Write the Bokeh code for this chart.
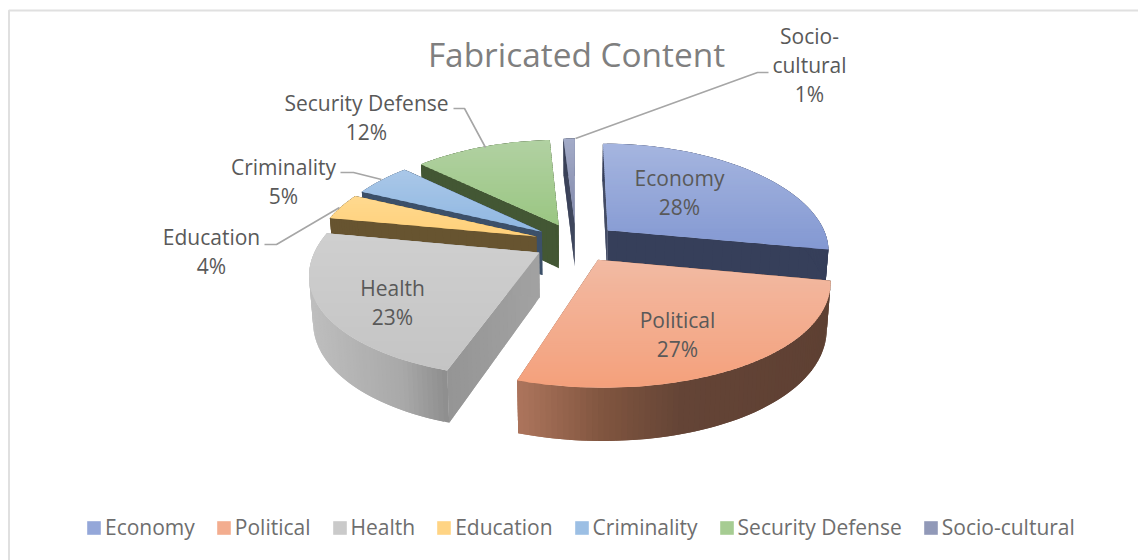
import numpy as np
from bokeh.embed import file_html
from bokeh.models import Legend, LegendItem, Range1d
from bokeh.plotting import figure
from bokeh.resources import INLINE

# Chart content
title = "Fabricated Content"
categories = ["Economy", "Political", "Health", "Education", "Criminality", "Security Defense", "Socio-cultural"]
shares = [28, 27, 23, 4, 5, 12, 1]
label_lines = [["Economy"], ["Political"], ["Health"], ["Education"], ["Criminality"], ["Security Defense"], ["Socio-", "cultural"]]

# Styling per slice: top-face gradient, wall colour stops (x, colour)
top_from = ["#A5B5DF", "#F2BAA3", "#CFCFCF", "#FFD98F", "#A9C7E8", "#B1D1A2", "#A3ABC8"]
top_to = ["#8398D2", "#F4A07B", "#C4C4C4", "#FFCF78", "#8FB7E1", "#9AC682", "#7F86A8"]
wall_stops = [
    [(0, "#363F5A"), (1138, "#363F5A")],
    [(517, "#AC745C"), (600, "#80553F"), (680, "#644436"), (830, "#5E4033")],
    [(310, "#BEBEBE"), (400, "#A8A8A8"), (446, "#8C8C8C"), (447, "#959595"), (541, "#A3A3A3")],
    [(0, "#675430"), (1138, "#675430")],
    [(0, "#3C5069"), (1138, "#3C5069")],
    [(0, "#435734"), (1138, "#435734")],
    [(0, "#394058"), (1138, "#394058")],
]
paint_order = [6, 5, 4, 3, 0, 2, 1]

# Perspective pie geometry, in page pixels
CX, CY = 575.5, 242.0
RX, RY = 221.0, 103.0
PERSPECTIVE_X = 0.18
PERSPECTIVE_Y = 0.15
EXPLODE = 0.19
DEPTH = 44.0
BOTTOM_SHRINK = 0.985


def project(X, Y, bottom=False):
    sx = RX * X / (1.0 + PERSPECTIVE_X * Y)
    s = 1.0 / (1.0 + PERSPECTIVE_Y * Y)
    sy = CY - RY * Y * s
    if bottom:
        return CX + sx * BOTTOM_SHRINK, sy + DEPTH * s
    return CX + sx, sy


def hex_rgb(c):
    return np.array([int(c[i:i + 2], 16) for i in (1, 3, 5)], dtype=float)


def rgb_hex(v):
    return "#%02x%02x%02x" % tuple(int(round(t)) for t in v)


def mix(c0, c1, t):
    return rgb_hex(hex_rgb(c0) * (1 - t) + hex_rgb(c1) * t)


def stop_color(stops, x):
    xs = [s[0] for s in stops]
    rgb = np.array([hex_rgb(s[1]) for s in stops])
    return rgb_hex([np.interp(x, xs, rgb[:, k]) for k in range(3)])


def clip_half(pts, y, keep_below):
    out = []
    for i in range(len(pts)):
        a, b = pts[i], pts[(i + 1) % len(pts)]
        ina = (a[1] >= y) == keep_below
        inb = (b[1] >= y) == keep_below
        if ina:
            out.append(a)
        if ina != inb:
            t = (y - a[1]) / (b[1] - a[1])
            out.append((a[0] + t * (b[0] - a[0]), y))
    return out


p = figure(width=1138, height=560, output_backend="svg", toolbar_location=None,
           x_range=Range1d(0, 1138), y_range=Range1d(560, 0),
           min_border=0, outline_line_color=None, background_fill_color="#FFFFFF",
           border_fill_color="#FFFFFF")
p.axis.visible = False
p.grid.visible = False

# Chart-area border: top and left edges only
p.line([8.5, 8.5, 1138], [560, 10, 10], line_color="#E0E0E0", line_width=2)

# Angles of each slice, clockwise from twelve o'clock
edges = np.cumsum([0] + shares) / sum(shares) * 2 * np.pi
top_renderers = {}
band_counts = {}

for i in paint_order:
    a0, a1 = edges[i], edges[i + 1]
    mid = (a0 + a1) / 2
    ox, oy = EXPLODE * np.sin(mid), EXPLODE * np.cos(mid)
    theta = np.linspace(a0, a1, max(6, int(shares[i] * 3)))
    X = ox + np.sin(theta)
    Y = oy + np.cos(theta)
    tx, ty = project(X, Y)
    bx, by = project(X, Y, bottom=True)
    atx, aty = project(ox, oy)
    abx, aby = project(ox, oy, bottom=True)

    wall_x, wall_y, wall_c = [], [], []

    def add_strip(x0t, y0t, x1t, y1t, x0b, y0b, x1b, y1b):
        wall_x.append([x0t, x1t, x1b, x0b])
        wall_y.append([y0t, y1t, y1b, y0b])
        wall_c.append(stop_color(wall_stops[i], (x0t + x1t) / 2))

    # Radial cut faces as narrow strips; each strip overlaps the next to hide seams
    for k in (0, -1):
        steps = np.linspace(0, 1, 24)
        for n in range(len(steps) - 1):
            u0, u1 = steps[n], steps[min(n + 2, len(steps) - 1)]
            add_strip(atx + u0 * (tx[k] - atx), aty + u0 * (ty[k] - aty),
                      atx + u1 * (tx[k] - atx), aty + u1 * (ty[k] - aty),
                      abx + u0 * (bx[k] - abx), aby + u0 * (by[k] - aby),
                      abx + u1 * (bx[k] - abx), aby + u1 * (by[k] - aby))
    # Outer rim, overlapped the same way
    for k in range(len(theta) - 1):
        e = min(k + 2, len(theta) - 1)
        add_strip(tx[k], ty[k], tx[e], ty[e], bx[k], by[k], bx[e], by[e])
    p.patches(wall_x, wall_y, fill_color=wall_c, line_color=None)

    # Top face, cut into overlapping horizontal bands for its vertical shading
    poly = [(atx, aty)] + list(zip(tx, ty))
    ymin, ymax = min(q[1] for q in poly), max(q[1] for q in poly)
    levels = np.arange(ymin, ymax + 2, 2.0)
    band_x, band_y, band_c = [], [], []
    for y0 in levels[:-1]:
        piece = clip_half(clip_half(poly, y0, True), y0 + 3.0, False)
        if len(piece) >= 3:
            band_x.append([q[0] for q in piece])
            band_y.append([q[1] for q in piece])
            band_c.append(mix(top_from[i], top_to[i], min(1.0, (y0 - ymin) / max(1.0, ymax - ymin))))
    top_renderers[i] = p.patches(band_x, band_y, fill_color=band_c, line_color=None)
    band_counts[i] = len(band_c)

# Leader lines
leaders = [
    ([453, 464, 485], [108, 108, 147]),
    ([340, 353, 381], [172, 172, 179]),
    ([264, 276, 339], [244, 244, 207]),
    ([768, 757, 575], [72, 72, 138]),
]
for lx, ly in leaders:
    p.line(lx, ly, line_color="#A6A6A6", line_width=1.6)

# Data labels: category lines, then the share
FONT = "Open Sans"
label_pos = [(679, 177), (677, 319), (392, 287), (211, 236), (283, 166), (366, 102), (809, 35)]
LINE_STEP = 29
for i, lines in enumerate(label_lines):
    x0, y0 = label_pos[i]
    rows = lines + [f"{shares[i]}%"]
    p.text([x0] * len(rows), [y0 + n * LINE_STEP for n in range(len(rows))], text=rows,
           text_align="center", text_baseline="middle", text_color="#595959",
           text_font_size="21px", text_font={"value": FONT})

p.text([576], [53], text=[title], text_align="center", text_baseline="middle",
       text_color="#7F7F7F", text_font_size="33.4px", text_font={"value": FONT})

# Legend along the bottom, swatches taken from the middle of each top-face gradient
items = [LegendItem(label=name, renderers=[top_renderers[i]], index=band_counts[i] // 2)
         for i, name in enumerate(categories)]
legend = Legend(items=items, orientation="horizontal", location=(85, 19), padding=0, margin=0,
                spacing=20, glyph_width=17, glyph_height=17, label_standoff=3,
                label_text_font=FONT, label_text_font_size="21px", label_text_color="#6E6E6E",
                background_fill_alpha=0, border_line_color=None)
p.add_layout(legend, "center")

open("out.html", "w").write(file_html(p, INLINE))
